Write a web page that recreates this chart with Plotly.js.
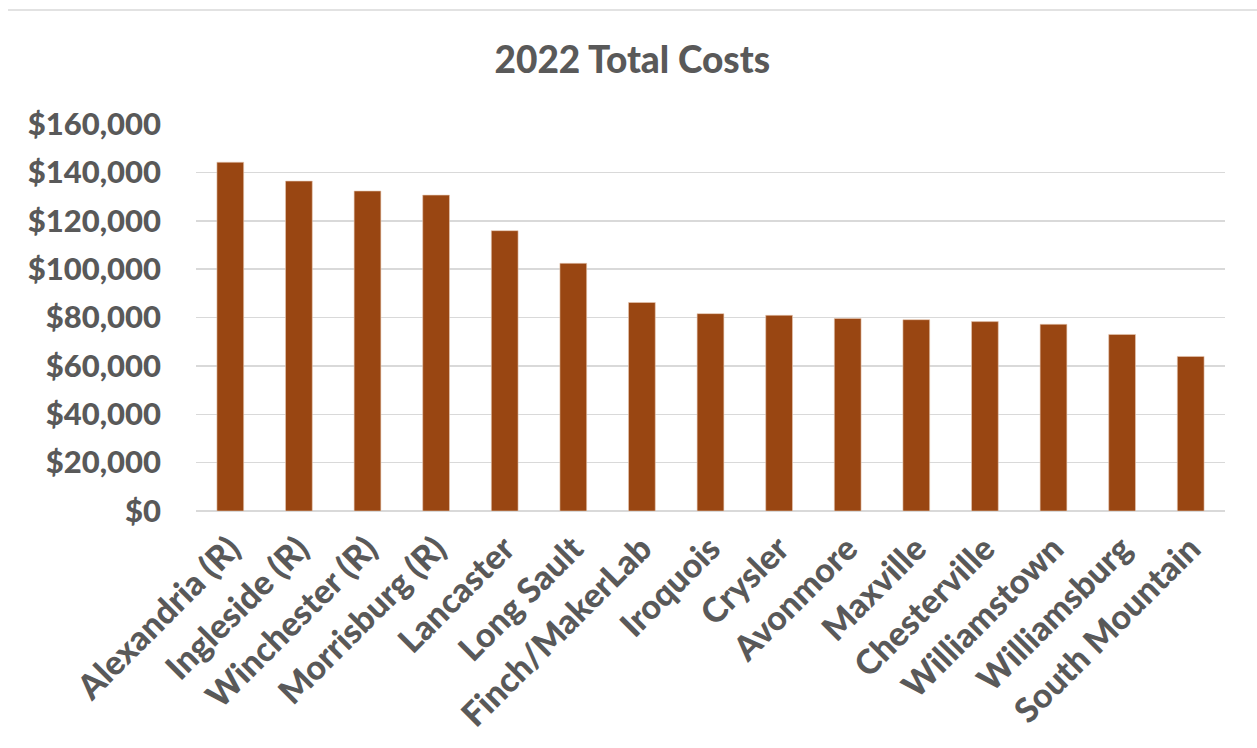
<!DOCTYPE html>
<html>
<head>
<meta charset="utf-8">
<script src="https://cdn.plot.ly/plotly-3.0.1.min.js"></script>
<style>
  html, body { margin: 0; padding: 0; background: #ffffff; }
  #chart { width: 1257px; height: 748px; }
</style>
</head>
<body>
<div id="chart"></div>
<script>
// Library branches and their 2022 total costs
const branches = [
  "Alexandria (R)", "Ingleside (R)", "Winchester (R)", "Morrisburg (R)",
  "Lancaster", "Long Sault", "Finch/MakerLab", "Iroquois", "Crysler",
  "Avonmore", "Maxville", "Chesterville", "Williamstown", "Williamsburg",
  "South Mountain"
];
const totalCosts = [
  144200, 136400, 132300, 130600, 115900, 102400, 86200, 81600, 80900,
  79600, 79100, 78300, 77200, 73000, 63900
];
const yTickValues = [0, 20000, 40000, 60000, 80000, 100000, 120000, 140000, 160000];
const yTickLabels = ["$0", "$20,000", "$40,000", "$60,000", "$80,000",
                     "$100,000", "$120,000", "$140,000", "$160,000"];

const W = 1257, H = 748;
const margin = { l: 196, r: 32, t: 124, b: 237 };
const plotW = W - margin.l - margin.r;
const plotH = H - margin.t - margin.b;
const textGrey = "#595959";
const gridGrey = "#d9d9d9";
const font = "Lato, 'Open Sans', sans-serif";

// page divider line near the top edge
const dividerY = (H - margin.b - 10) / plotH;
const dividerX0 = (8 - margin.l) / plotW;
const dividerX1 = (W - margin.l) / plotW;

const trace = {
  type: "bar",
  x: branches,
  y: totalCosts,
  marker: { color: "#994612", line: { color: "#e8c9b4", width: 0.6 } },
  hoverinfo: "x+y"
};

const layout = {
  width: W,
  height: H,
  margin: margin,
  paper_bgcolor: "#ffffff",
  plot_bgcolor: "#ffffff",
  bargap: 0.61,
  showlegend: false,
  title: {
    text: "2022 Total Costs",
    font: { family: font, size: 37, color: textGrey, weight: 900 },
    x: 0.503, xanchor: "center",
    y: 0.92, yanchor: "middle", yref: "container"
  },
  xaxis: {
    tickangle: -45,
    tickfont: { family: font, size: 34, color: textGrey, weight: 900 },
    showgrid: false,
    showline: false,
    zeroline: false,
    ticks: "",
    ticklabelstandoff: 10,
    automargin: false
  },
  yaxis: {
    range: [0, 160000],
    tickvals: yTickValues,
    ticktext: yTickLabels,
    tickfont: { family: font, size: 31, color: textGrey, weight: 900 },
    showgrid: true,
    gridcolor: gridGrey,
    gridwidth: 1.5,
    zeroline: true,
    zerolinecolor: gridGrey,
    zerolinewidth: 1.5,
    ticks: "",
    ticklabelstandoff: 34,
    automargin: false
  },
  shapes: [{
    type: "line", xref: "paper", yref: "paper",
    x0: dividerX0, x1: dividerX1, y0: dividerY, y1: dividerY,
    line: { color: gridGrey, width: 1.5 }
  }]
};

Plotly.newPlot("chart", [trace], layout, { displayModeBar: false, staticPlot: true });
</script>
</body>
</html>
